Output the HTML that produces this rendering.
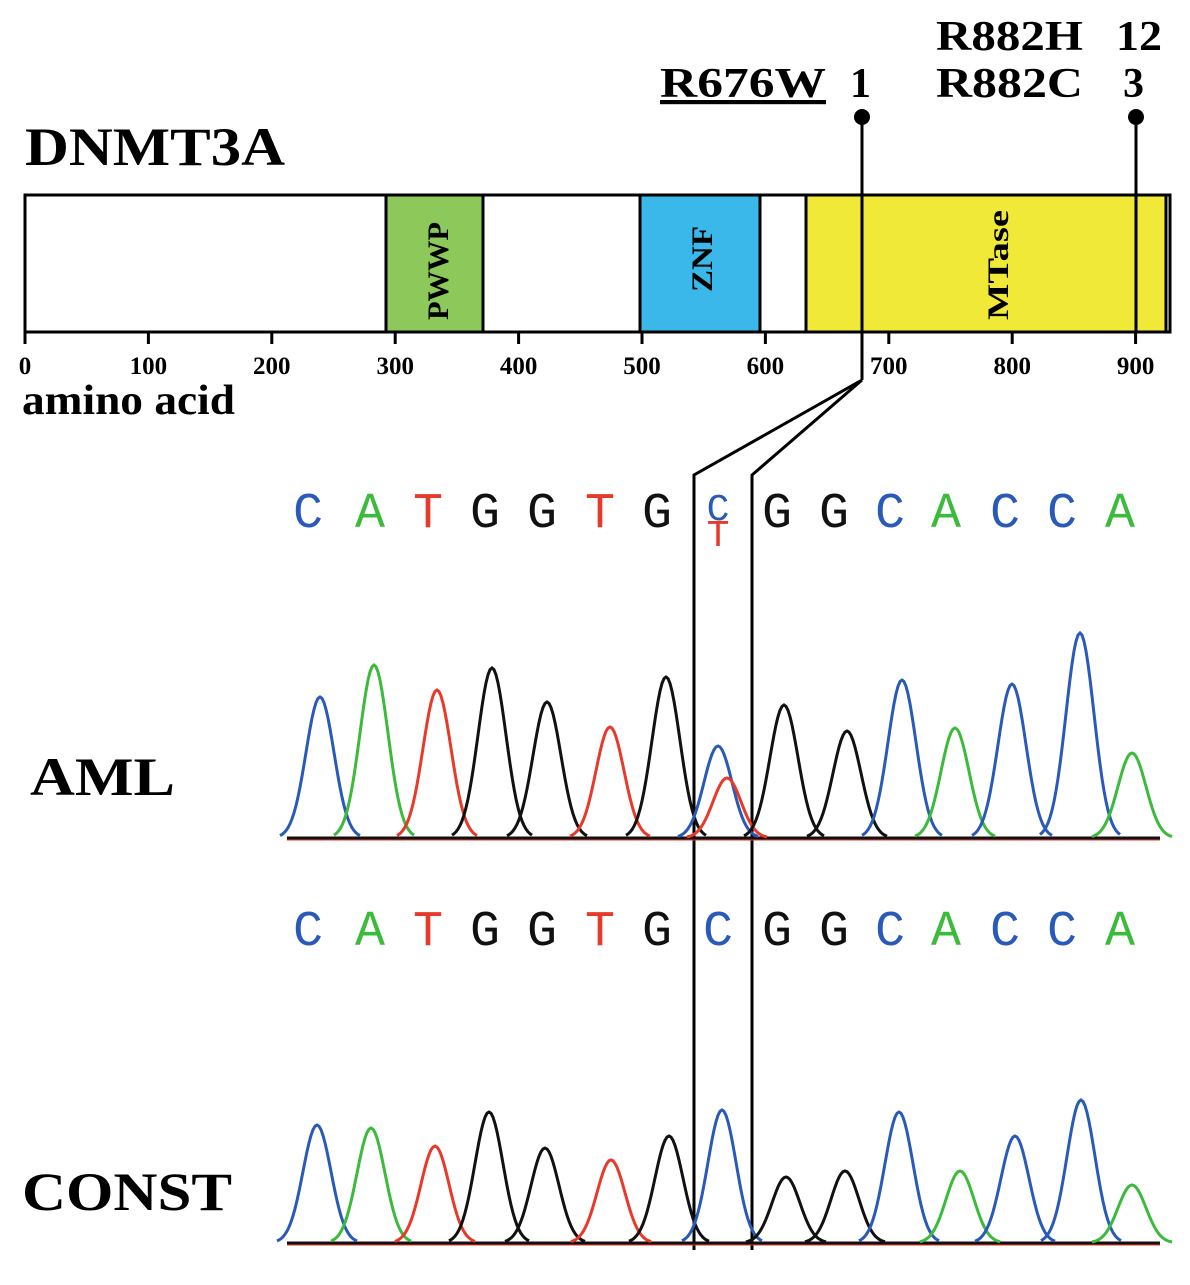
<!DOCTYPE html>
<html><head><meta charset="utf-8"><style>
body{margin:0;background:#fff}
svg text{font-family:"Liberation Serif",serif;font-weight:bold}
.s{font-family:"Liberation Mono",monospace!important;font-weight:normal!important;font-size:50px}
</style></head><body>
<svg id="g" width="1190" height="1280" viewBox="0 0 1190 1280" xmlns="http://www.w3.org/2000/svg">
<text x="25" y="165" font-size="54" textLength="260" lengthAdjust="spacingAndGlyphs">DNMT3A</text>
<text x="660" y="97" font-size="42" textLength="166" lengthAdjust="spacingAndGlyphs" text-decoration="underline">R676W</text>
<text x="850" y="97" font-size="42">1</text>
<text x="936" y="50" font-size="42" textLength="147" lengthAdjust="spacingAndGlyphs">R882H</text>
<text x="1116" y="50" font-size="42" textLength="46" lengthAdjust="spacingAndGlyphs">12</text>
<text x="936" y="97" font-size="42" textLength="147" lengthAdjust="spacingAndGlyphs">R882C</text>
<text x="1123" y="97" font-size="42">3</text>
<rect x="25" y="195" width="1145" height="137" fill="#fff" stroke="#000" stroke-width="3"/>
<rect x="386" y="195" width="97" height="137" fill="#8cc85a" stroke="#000" stroke-width="3"/>
<rect x="640" y="195" width="120" height="137" fill="#3ab8ea" stroke="#000" stroke-width="3"/>
<rect x="806" y="195" width="360" height="137" fill="#f0e938" stroke="#000" stroke-width="3"/>
<text transform="translate(448,320) rotate(-90)" font-size="30" textLength="98" lengthAdjust="spacingAndGlyphs">PWWP</text>
<text transform="translate(712,292) rotate(-90)" font-size="30" textLength="66" lengthAdjust="spacingAndGlyphs">ZNF</text>
<text transform="translate(1008,320) rotate(-90)" font-size="30" textLength="110" lengthAdjust="spacingAndGlyphs">MTase</text>
<g stroke="#000" stroke-width="3" fill="none">
<line x1="862" y1="117" x2="862" y2="380"/>
<line x1="1136" y1="117" x2="1136" y2="332"/>
<polyline points="862,380 694,475 694,1250"/>
<polyline points="862,380 752,475 752,1250"/>
</g>
<circle cx="862" cy="117" r="8"/><circle cx="1136" cy="117" r="8"/>
<g id="ticks" font-size="25"></g>
<text x="22" y="414" font-size="42" textLength="213" lengthAdjust="spacingAndGlyphs">amino acid</text>
<text x="30" y="795" font-size="54" textLength="145" lengthAdjust="spacingAndGlyphs">AML</text>
<text x="22" y="1210" font-size="54" textLength="210" lengthAdjust="spacingAndGlyphs">CONST</text>
<g id="seq"></g>
<g id="tr" fill="none" stroke-width="3"></g>
</svg>
<script>
var NS="http://www.w3.org/2000/svg";
function el(p,t,a,txt){var e=document.createElementNS(NS,t);for(var k in a)e.setAttribute(k,a[k]);if(txt)e.textContent=txt;document.getElementById(p).appendChild(e);}
for(var i=0;i<=9;i++){var x=25+i*123.4;el("ticks","line",{x1:x,y1:332,x2:x,y2:344,stroke:"#000","stroke-width":3});el("ticks","text",{x:x,y:374,"text-anchor":"middle"},String(i*100));}
var C={C:"#2a5ab8",A:"#3cba3c",T:"#e83a2a",G:"#111"};
var xs=[308,370,428,485,542,600,657,718,777,834,890,946,1005,1062,1120],s="CATGGTGCGGCACCA";
for(var i=0;i<15;i++){var ch=s[i];
 if(i==7){el("seq","text",{x:xs[i],y:520,"text-anchor":"middle","class":"s",fill:C.C,style:"font-size:38px"},"C");el("seq","text",{x:xs[i],y:546,"text-anchor":"middle","class":"s",fill:C.T,style:"font-size:38px"},"T");}
 else el("seq","text",{x:xs[i],y:527,"text-anchor":"middle","class":"s",fill:C[ch]},ch);
 el("seq","text",{x:xs[i],y:945,"text-anchor":"middle","class":"s",fill:C[ch]},ch);}
function tr(b,pk){
 el("tr","line",{x1:287,y1:b+1,x2:1160,y2:b+1,stroke:"#e83a2a"});
 el("tr","line",{x1:287,y1:b,x2:1160,y2:b,stroke:"#111"});
 pk.forEach(function(p){var d="";for(var x=p[0]-40;x<=p[0]+40;x+=2){var y=b-(b-p[1])*Math.exp(-Math.pow((x-p[0])/14,2)/2);d+=(d?"L":"M")+x+","+y.toFixed(1);}
 el("tr","path",{d:d,stroke:C[p[2]]});});}
tr(838,[[320,697,"C"],[374,665,"A"],[437,690,"T"],[492,668,"G"],[547,702,"G"],[610,727,"T"],[666,677,"G"],[718,746,"C"],[727,778,"T"],[784,705,"G"],[847,731,"G"],[902,680,"C"],[955,728,"A"],[1012,684,"C"],[1080,633,"C"],[1132,753,"A"]]);
tr(1243,[[317,1125,"C"],[371,1128,"A"],[435,1146,"T"],[489,1112,"G"],[545,1148,"G"],[611,1160,"T"],[669,1136,"G"],[722,1110,"C"],[786,1177,"G"],[845,1171,"G"],[899,1112,"C"],[960,1171,"A"],[1015,1136,"C"],[1081,1100,"C"],[1132,1185,"A"]]);
</script>
</body></html>
